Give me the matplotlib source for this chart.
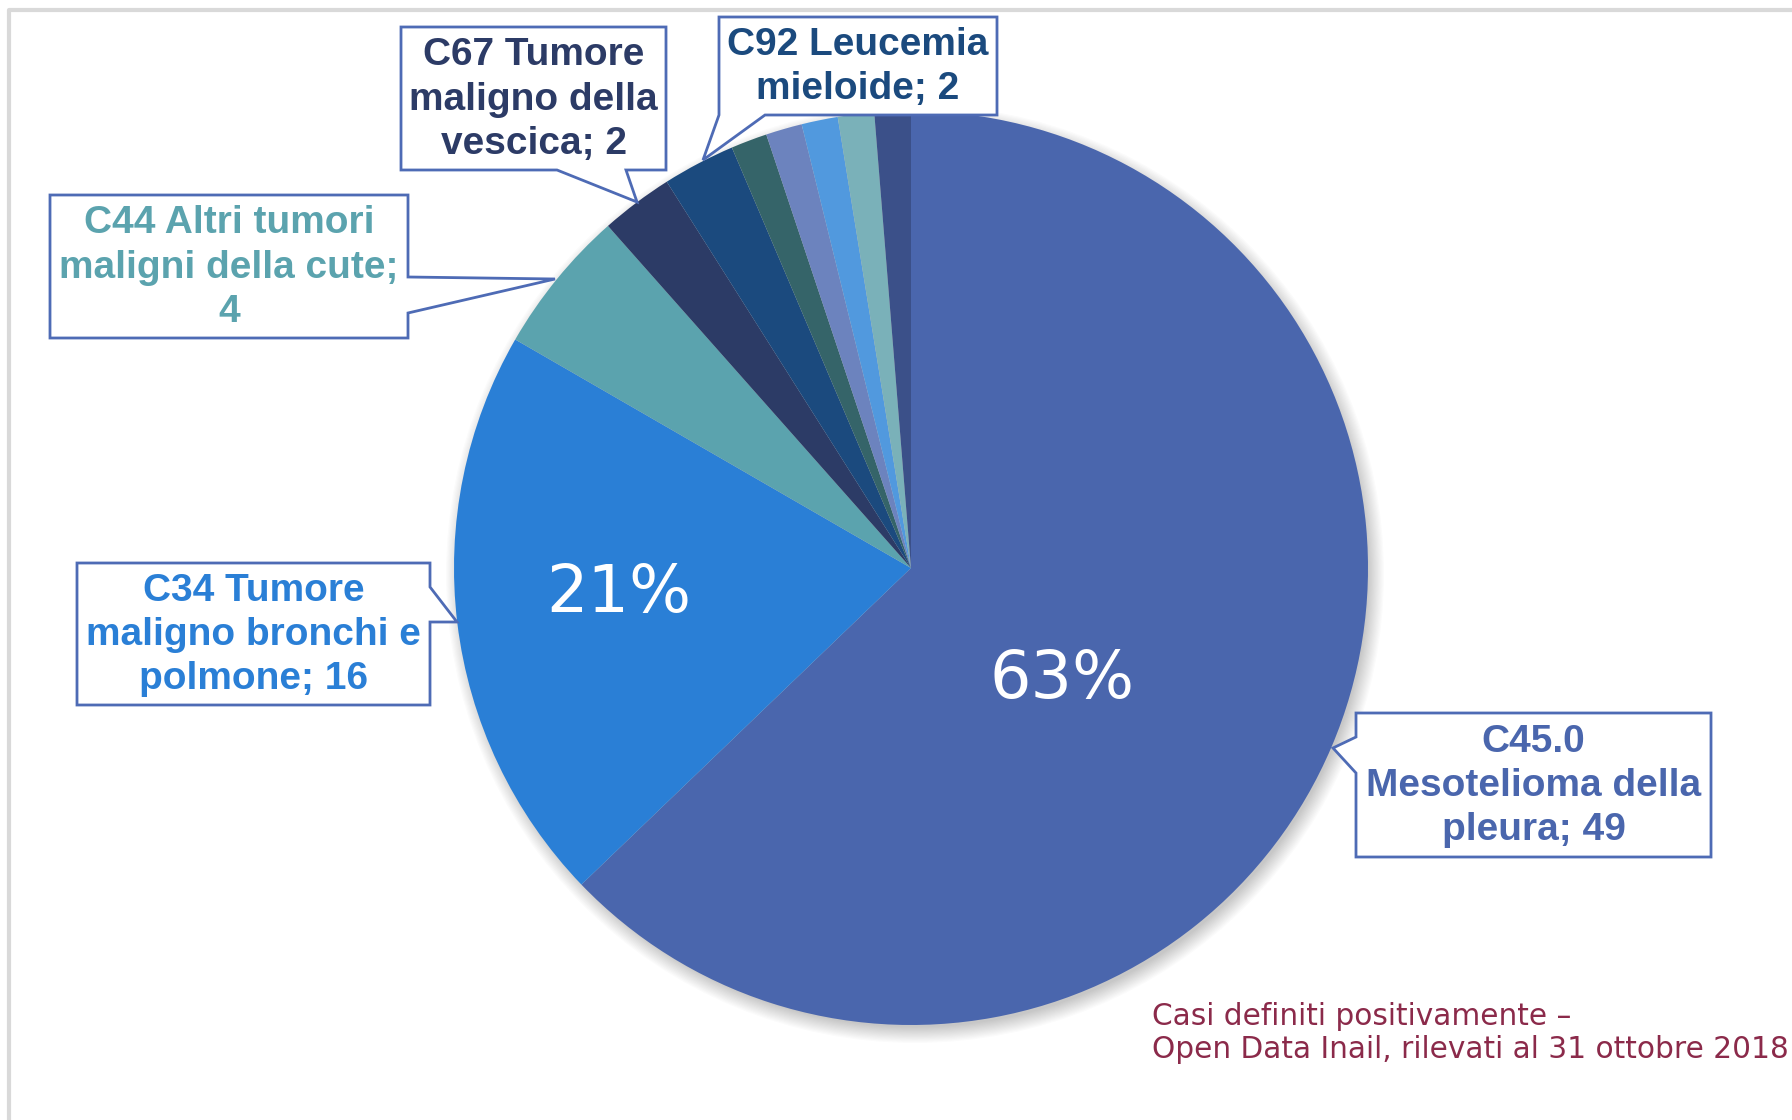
import numpy as np
import matplotlib
matplotlib.use("Agg")
from matplotlib import pyplot as plt
from matplotlib.patches import Polygon, Circle

# dati: casi definiti positivamente per tipo di tumore
values = [49, 16, 4, 2, 2, 1, 1, 1, 1, 1]
colors = ['#4A66AD', '#2A7FD6', '#5BA3AE', '#2C3B66', '#1B4A7E',
          '#356469', '#6C83BE', '#5199DE', '#7AB1B9', '#3B5089']
labels = ['C45.0\nMesotelioma della\npleura; 49',
          'C34 Tumore\nmaligno bronchi e\npolmone; 16',
          'C44 Altri tumori\nmaligni della cute;\n4',
          'C67 Tumore\nmaligno della\nvescica; 2',
          'C92 Leucemia\nmieloide; 2']
label_colors = ['#4A66AD', '#2A7FD6', '#5BA3AE', '#2C3B66', '#1B4A7E']
note = 'Casi definiti positivamente \u2013\nOpen Data Inail, rilevati al 31 ottobre 2018'

W, H = 1792, 1120
fig = plt.figure(figsize=(W / 100, H / 100), dpi=100)
ax = fig.add_axes([0, 0, 1, 1])
ax.set_xlim(0, W)
ax.set_ylim(0, H)
ax.set_aspect('equal')
ax.axis('off')


def py(y):
    # pixel y (dall'alto) -> coordinate dati
    return H - y


cx, cy, r = 911, py(568), 457

# bordo grigio della slide
ax.plot([9, 9, W], [0, py(10), py(10)], color='#D9D9D9', lw=3, zorder=0)

# ombra morbida
for k in range(14):
    ax.add_patch(Circle((cx + 4, cy - 6), r + 12 - k * 1.2, color='#000000',
                        alpha=0.014, lw=0, zorder=1))

wedges, _ = ax.pie(values, colors=colors, startangle=90, counterclock=False,
                   center=(cx, cy), radius=r, frame=True,
                   wedgeprops=dict(linewidth=0))
for w in wedges:
    w.set_zorder(2)
ax.set_xlim(0, W)
ax.set_ylim(0, H)
ax.axis('off')

# percentuali
total = sum(values)
pct_pos = [(1062, 680), (619, 594)]
for i, (x, y) in enumerate(pct_pos):
    ax.text(x, py(y), f'{round(values[i] / total * 100)}%', color='white',
            fontsize=47, ha='center', va='center', family='DejaVu Sans', zorder=5)

# riquadri con freccia: box (x0, y0, x1, y1) e vertici della freccia
boxes = [
    ((1356, 713, 1711, 857), 'left', [(1356, 737), (1333, 748), (1356, 773)]),
    ((77, 563, 430, 705), 'right', [(430, 587), (457, 622), (430, 622)]),
    ((50, 195, 408, 338), 'right', [(408, 277), (555, 279), (408, 313)]),
    ((401, 27, 666, 170), 'bottom', [(626, 170), (637, 202), (557, 170)]),
    ((719, 17, 997, 115), 'bottom', [(765, 115), (703, 160), (719, 115)]),
]

for (x0, y0, x1, y1), side, ptr in boxes:
    if side == 'left':
        pts = [(x0, y0), (x1, y0), (x1, y1), (x0, y1)] + ptr[::-1]
    elif side == 'right':
        pts = [(x0, y0), (x1, y0)] + ptr + [(x1, y1), (x0, y1)]
    else:
        pts = [(x0, y0), (x1, y0), (x1, y1)] + ptr + [(x0, y1)]
    ax.add_patch(Polygon([(x, py(y)) for x, y in pts], closed=True,
                         facecolor='white', edgecolor='#4E6BB5', lw=2, zorder=6))

for i, ((x0, y0, x1, y1), _, _p) in enumerate(boxes):
    ax.text((x0 + x1) / 2, py((y0 + y1) / 2 + 1), labels[i], color=label_colors[i],
            fontsize=28, fontweight='bold', ha='center', va='center',
            family='Liberation Sans', linespacing=1.3, zorder=7)

ax.text(1152, py(1033), note, color='#8B2A4A', fontsize=21.3,
        family='DejaVu Sans', ha='left', va='center', linespacing=1.2, zorder=7)

fig.savefig('out.png', dpi=100)
